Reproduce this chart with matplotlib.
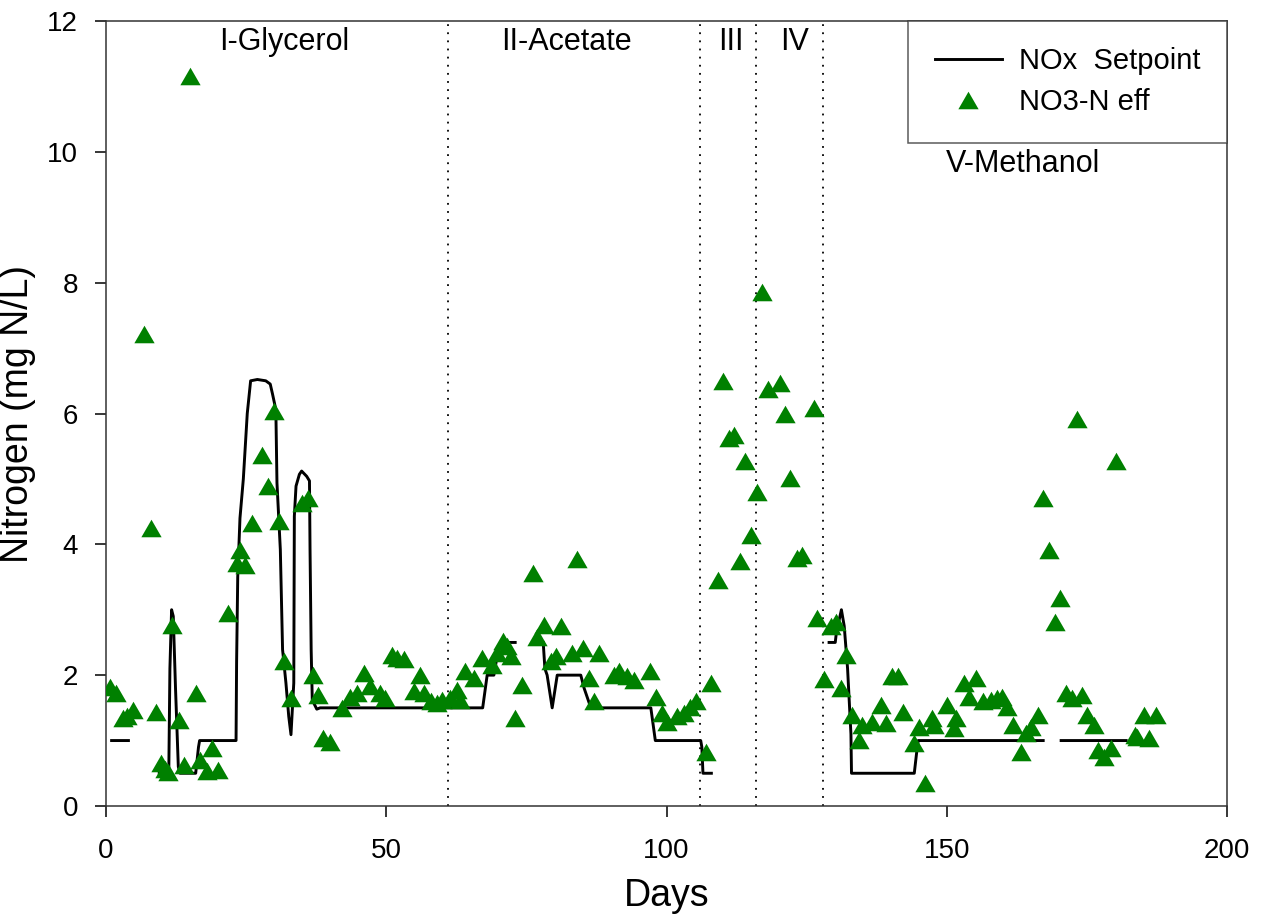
import numpy as np
import matplotlib.pyplot as plt
from matplotlib.lines import Line2D

plt.rcParams['font.family'] = ['Liberation Sans', 'DejaVu Sans']

# NOx setpoint, nan marks a gap in the line
set_day = [1, 4, np.nan,
           9.5, 11.2, 11.4, 11.7, 12.0, 12.4, 12.9, 13.2, 16.0, 16.5, 16.7, 23.2,
           23.3, 23.5, 23.9, 24.5, 25.2, 25.8, 27.0, 28.5, 29.3, 29.7,
           30.3, 30.5, 31.1, 31.5, 32.1, 32.6, 33.0,
           33.5, 33.6, 33.9, 34.5, 34.9, 35.8, 36.3, 36.4, 36.6, 36.8, 37.6, 38.2,
           67.2, 68.0, 69.2, 70.0, 70.5, 73.0, np.nan,
           78.0, 78.3, 78.7, 79.6, 80.5, 84.7, 85.3, 86.3, 87.0, 97.2, 98.0,
           106.1, 106.3, 106.5, 108.0, np.nan,
           129.0, 130.1, 130.3, 131.2, 131.4, 131.7, 132.3, 132.6, 132.9, 133.0,
           144.2, 144.6, 144.9, 167.2, np.nan,
           170.4, 182.0]
set_val = [1.0, 1.0, np.nan,
           0.5, 0.5, 2.1, 3.0, 2.9, 1.8, 0.6, 0.5, 0.5, 0.9, 1.0, 1.0,
           2.2, 3.5, 4.4, 5.0, 6.0, 6.5, 6.52, 6.5, 6.45, 6.3,
           6.06, 4.94, 3.92, 2.39, 1.88, 1.37, 1.09,
           1.88, 4.43, 4.89, 5.07, 5.12, 5.04, 4.97, 3.92, 2.39, 1.62, 1.48, 1.5,
           1.5, 2.0, 2.0, 2.4, 2.5, 2.5, np.nan,
           2.5, 2.1, 2.0, 1.5, 2.0, 2.0, 1.8, 1.55, 1.5, 1.5, 1.0,
           1.0, 0.9, 0.5, 0.5, np.nan,
           2.5, 2.5, 2.65, 3.0, 2.9, 2.75, 2.1, 1.6, 1.1, 0.5,
           0.5, 0.8, 1.0, 1.0, np.nan,
           1.0, 1.0]

# NO3-N effluent
eff_day = [0.8, 1.7, 3.0, 3.8, 4.9, 6.8, 8.0, 8.9, 9.9, 10.5, 11.0, 11.8, 13.0, 14.0,
           15.0, 16.0, 16.8, 18.0, 18.9, 19.9, 21.8, 23.3, 23.9, 24.8, 26.0, 27.9,
           28.9, 30.0, 30.9, 31.8, 33.0, 34.9, 36.1, 36.9, 37.9, 38.8, 40.0, 42.1,
           43.6, 44.8, 46.0, 47.1, 48.9, 49.8, 51.0, 52.0, 53.1,
           54.9, 56.1, 56.7, 57.9, 59.0, 59.9, 61.4, 62.6, 63.2, 64.1, 65.6, 67.1,
           68.9, 69.8, 70.9, 71.6, 72.2, 73.0, 74.2, 76.1, 76.9, 78.1, 79.3, 80.2,
           81.1, 83.2, 84.0, 85.1, 86.1, 87.0, 88.0, 90.6, 91.5, 93.0, 94.2, 97.0,
           98.2, 99.2, 100.1, 101.9, 103.1, 104.2, 105.2, 107.0, 108.0, 109.1,
           110.1, 111.1, 112.0, 113.1, 114.0, 115.1, 116.2, 117.1, 118.1, 120.2,
           121.1, 122.0, 123.3, 124.2, 126.3, 126.9, 128.1, 129.3, 130.2, 131.1,
           132.1, 133.1, 134.3,
           134.9, 136.7, 138.2, 139.1, 140.3, 141.3, 142.2, 144.2, 145.1, 146.1,
           147.3, 147.8, 150.1, 151.3, 151.6, 153.1, 154.0, 155.2, 156.4, 157.9,
           159.0, 159.9, 160.8, 161.8, 163.2, 164.1, 165.0, 166.3, 167.2, 168.3,
           169.3, 170.2, 171.3, 172.4, 173.2, 174.2, 175.1, 176.2, 176.9, 178.1,
           179.3, 180.2, 183.5, 184.0, 185.2, 186.1, 187.3]
eff_val = [1.82, 1.73, 1.35, 1.38, 1.47, 7.21, 4.25, 1.43, 0.65, 0.57, 0.52, 2.77, 1.32, 0.63,
           11.16, 1.72, 0.70, 0.53, 0.88, 0.55, 2.95, 3.72, 3.92, 3.69, 4.33, 5.37,
           4.89, 6.04, 4.35, 2.21, 1.65, 4.63, 4.71, 2.0, 1.70, 1.04, 0.98, 1.50,
           1.67, 1.73, 2.03, 1.83, 1.73, 1.65, 2.31, 2.26, 2.24,
           1.75, 2.0, 1.73, 1.6, 1.57, 1.62, 1.65, 1.78, 1.62, 2.06, 1.95, 2.26,
           2.16, 2.34, 2.52, 2.45, 2.3, 1.34, 1.85, 3.56, 2.59, 2.77, 2.21, 2.29,
           2.75, 2.34, 3.77, 2.41, 1.95, 1.6, 2.34, 2.0, 2.06, 1.98, 1.93, 2.06,
           1.67, 1.42, 1.29, 1.37, 1.42, 1.52, 1.6, 0.83, 1.88, 3.45,
           6.49, 5.63, 5.67, 3.74, 5.27, 4.15, 4.8, 7.85, 6.37, 6.46,
           6.0, 5.02, 3.79, 3.84, 6.09, 2.87, 1.94, 2.75, 2.82, 1.8,
           2.31, 1.39, 1.01,
           1.24, 1.29, 1.55, 1.27, 1.98, 1.98, 1.44, 0.96, 1.21, 0.35,
           1.34, 1.24, 1.55, 1.19, 1.34, 1.88, 1.67, 1.96, 1.6, 1.62,
           1.65, 1.67, 1.52, 1.24, 0.83, 1.11, 1.21, 1.39, 4.71, 3.92,
           2.82, 3.18, 1.73, 1.65, 5.91, 1.70, 1.39, 1.24, 0.86, 0.75,
           0.88, 5.27, 1.09, 1.06, 1.39, 1.04, 1.39]

phase_lines = [61, 106, 116, 128]
phase_names = ['I-Glycerol', 'II-Acetate', 'III', 'IV', 'V-Methanol']
phase_x = [31.8, 82.1, 111.4, 122.9, 163.6]
phase_y = [11.68, 11.68, 11.68, 11.68, 9.82]

green = '#008000'
tri = [(-1, -0.866), (1, -0.866), (0, 0.866)]

fig = plt.figure(figsize=(12.65, 9.19), dpi=100)
ax = fig.add_axes([0.0838, 0.1230, 0.8862, 0.8541])

for d in phase_lines:
    ax.axvline(d, color='black', lw=1.3, dashes=(1, 3.5))

ax.plot(set_day, set_val, color='black', lw=2.1, zorder=3)
ax.plot(eff_day, eff_val, linestyle='none', marker=tri, markersize=14.6,
        color=green, markeredgewidth=0, zorder=4)

for name, x, y in zip(phase_names, phase_x, phase_y):
    ax.text(x, y, name, fontsize=22, ha='center', va='center')

ax.set_xlim(0, 200)
ax.set_ylim(0, 12)
ax.set_xticks([0, 50, 100, 150, 200])
ax.set_yticks([0, 2, 4, 6, 8, 10, 12])
ax.tick_params(direction='out', length=8, width=1.1, labelsize=20, pad=12,
               top=False, right=False)
ax.tick_params(axis='x', pad=15)
for s in ax.spines.values():
    s.set_linewidth(1.1)
    s.set_color('#333333')

ax.set_xlabel('Days', fontsize=27, labelpad=10)
ax.set_ylabel('Nitrogen (mg N/L)', fontsize=27, labelpad=8)

handles = [Line2D([], [], color='black', lw=2.1),
           Line2D([], [], linestyle='none', marker=tri, markersize=14.6,
                  color=green, markeredgewidth=0)]
leg = ax.legend(handles, ['NOx  Setpoint', 'NO3-N eff'], loc='upper right',
                borderaxespad=0, fontsize=21, frameon=True, fancybox=False,
                edgecolor='#333333', handlelength=2.3, handletextpad=0.6,
                borderpad=0.9, labelspacing=0.45)
leg.get_frame().set_linewidth(1.1)

fig.savefig('out.png', dpi=100)
